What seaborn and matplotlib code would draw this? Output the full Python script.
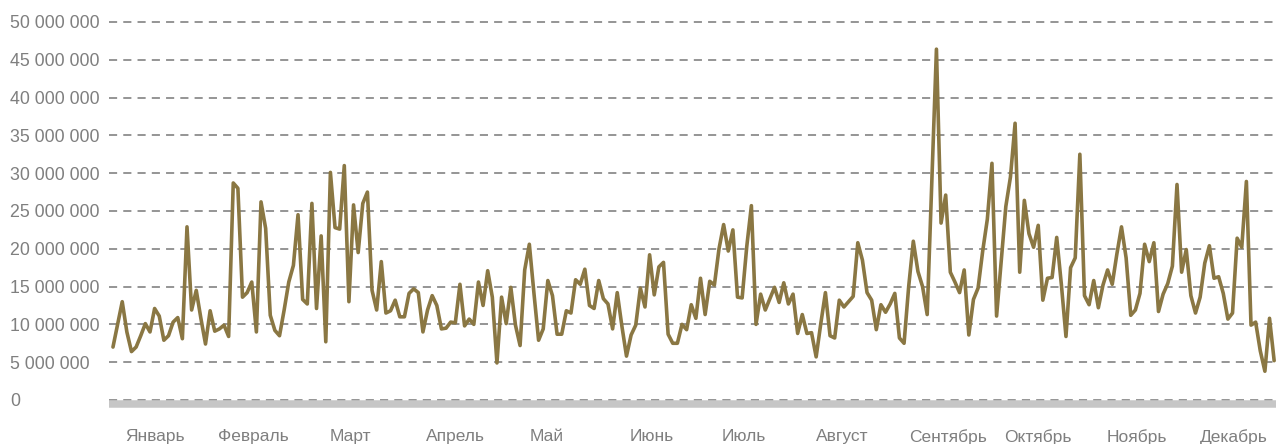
import matplotlib
matplotlib.use("Agg")
import matplotlib.pyplot as plt
import seaborn as sns
import pandas as pd

# Daily trading volume over the year, in millions
volume_mln = [
    7.0, 10.0, 13.0, 9.0, 6.4, 7.0, 8.5, 10.1, 9.0, 12.1,
    11.1, 7.9, 8.5, 10.3, 10.9, 8.1, 22.9, 11.9, 14.5, 10.8,
    7.4, 11.8, 9.1, 9.4, 9.9, 8.4, 28.7, 28.0, 13.6, 14.2,
    15.6, 9.0, 26.2, 22.7, 11.2, 9.2, 8.5, 11.9, 15.6, 17.8,
    24.5, 13.3, 12.7, 26.0, 12.1, 21.7, 7.7, 30.1, 22.8, 22.6,
    31.0, 13.0, 25.8, 19.5, 26.0, 27.5, 14.5, 11.9, 18.3, 11.5,
    11.8, 13.2, 11.0, 11.0, 14.1, 14.7, 14.2, 9.0, 11.9, 13.8,
    12.5, 9.4, 9.5, 10.3, 10.2, 15.3, 9.8, 10.7, 10.0, 15.6,
    12.5, 17.1, 13.6, 4.9, 13.6, 10.1, 14.9, 9.9, 7.2, 17.2,
    20.6, 14.1, 7.9, 9.4, 15.8, 13.8, 8.7, 8.7, 11.8, 11.5,
    15.9, 15.3, 17.3, 12.5, 12.1, 15.8, 13.4, 12.7, 9.4, 14.2,
    9.8, 5.8, 8.6, 9.9, 14.8, 12.3, 19.2, 13.9, 17.6, 18.2,
    8.7, 7.5, 7.5, 10.0, 9.3, 12.6, 10.8, 16.1, 11.3, 15.7,
    15.2, 20.0, 23.2, 19.7, 22.5, 13.6, 13.5, 20.3, 25.7, 10.0,
    14.0, 11.9, 13.4, 14.9, 12.9, 15.5, 12.7, 14.0, 8.8, 11.3,
    8.8, 8.9, 5.7, 10.1, 14.2, 8.5, 8.2, 13.2, 12.3, 13.0,
    13.7, 20.8, 18.5, 14.2, 13.2, 9.3, 12.6, 11.6, 12.7, 14.1,
    8.2, 7.5, 15.0, 21.0, 17.0, 15.0, 11.3, 29.0, 46.4, 23.4,
    27.1, 16.9, 15.6, 14.2, 17.2, 8.6, 13.3, 14.8, 19.7, 23.9,
    31.3, 11.1, 18.4, 25.6, 29.5, 36.6, 16.9, 26.4, 22.0, 20.2,
    23.1, 13.2, 16.1, 16.2, 21.5, 15.3, 8.4, 17.5, 18.8, 32.5,
    13.8, 12.6, 15.8, 12.2, 15.2, 17.2, 15.3, 19.3, 22.9, 18.8,
    11.2, 11.9, 14.1, 20.6, 18.3, 20.8, 11.7, 14.0, 15.4, 17.7,
    28.5, 16.9, 19.9, 13.8, 11.5, 13.6, 18.1, 20.4, 16.1, 16.3,
    14.1, 10.7, 11.5, 21.4, 20.2, 28.9, 9.9, 10.3, 6.5, 3.8,
    10.8, 5.2,
]

months = ["Январь", "Февраль", "Март", "Апрель", "Май", "Июнь",
          "Июль", "Август", "Сентябрь", "Октябрь", "Ноябрь", "Декабрь"]
# Trading-day position of each month label (middle of the month)
month_pos = [9.1, 30.3, 51.4, 74.1, 93.8, 116.5, 136.4, 157.6, 180.5, 200.0, 221.3, 242.3]

y_ticks = [0, 5_000_000, 10_000_000, 15_000_000, 20_000_000, 25_000_000,
           30_000_000, 35_000_000, 40_000_000, 45_000_000, 50_000_000]

df = pd.DataFrame({
    "day": range(len(volume_mln)),
    "volume": [v * 1_000_000 for v in volume_mln],
})

sns.set_style("white")
plt.rcParams["font.family"] = ["Liberation Sans", "DejaVu Sans"]

LINE = "#8A7743"
TEXT = "#7f7f7f"
GRID = "#8c8c8c"
BASE = "#c6c6c6"

fig = plt.figure(figsize=(12.76, 4.44), dpi=100)
ax = fig.add_axes([109 / 1276, 0.0908, 1 - 109 / 1276, 0.8768])

ax.set_ylim(-0.49e6, 51e6)
ax.set_xlim(-0.86, 251.4)

ax.set_yticks(y_ticks)
ax.set_yticklabels([f"{v:,}".replace(",", " ") for v in y_ticks])
ax.yaxis.grid(True, color=GRID, linestyle=(0, (4.5, 3.4)), linewidth=1.3)
ax.set_axisbelow(True)

sns.lineplot(data=df, x="day", y="volume", ax=ax, color=LINE, linewidth=2.6, zorder=3)

ax.set_xticks(month_pos)
ax.set_xticklabels(months)
ax.set_xlabel("")
ax.set_ylabel("")

for side in ("top", "right", "left"):
    ax.spines[side].set_visible(False)
ax.spines["bottom"].set_color(BASE)
ax.spines["bottom"].set_linewidth(5.4)
ax.spines["bottom"].set_zorder(4)
ax.spines["bottom"].set_capstyle("butt")

ax.tick_params(axis="x", length=0, pad=18, labelsize=12.5, labelcolor=TEXT)
ax.tick_params(axis="y", length=0, pad=71, labelsize=12.8, labelcolor=TEXT)
for lbl in ax.get_yticklabels():
    lbl.set_horizontalalignment("left")

fig.savefig("out.png", dpi=100)
